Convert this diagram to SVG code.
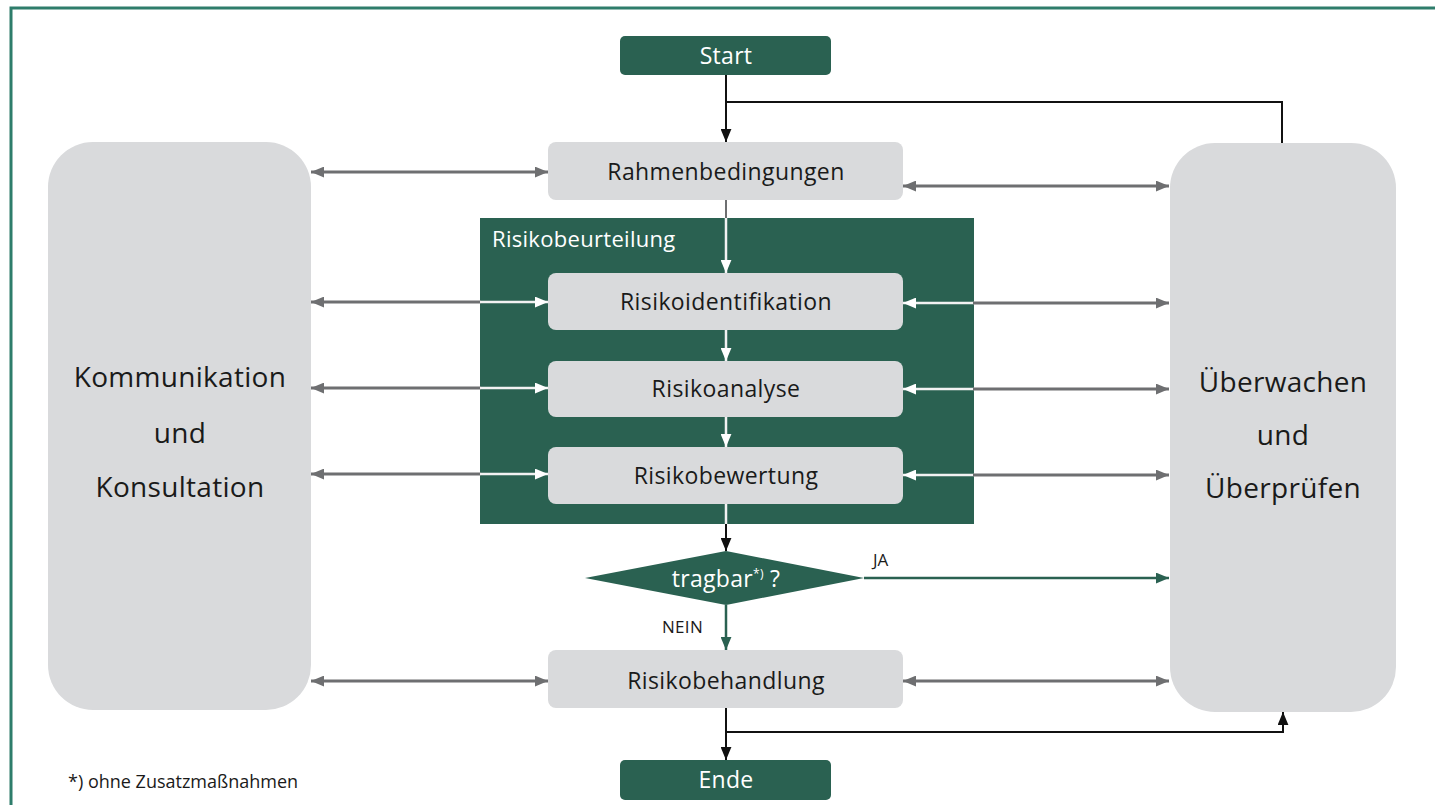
<svg xmlns="http://www.w3.org/2000/svg" width="1435" height="805" viewBox="0 0 1435 805">
<style>
text{font-family:"Open Sans","Noto Sans","DejaVu Sans",sans-serif;}
.gbox{fill:#d9dadc;}
.dk{fill:#2a6151;}
.lbl{font-size:23px;fill:#1a1a1a;text-anchor:middle;letter-spacing:0.4px;}
.big{font-size:28px;fill:#1a1a1a;text-anchor:middle;letter-spacing:0.3px;}
.wt{font-size:23px;fill:#ffffff;text-anchor:middle;letter-spacing:0.3px;}
.gl{stroke:#6e6f71;stroke-width:3;fill:none;}
.wl{stroke:#f2f2f2;stroke-width:2.5;fill:none;}
.bl{stroke:#111111;stroke-width:2;fill:none;}
.grn{stroke:#2a6151;stroke-width:2.5;fill:none;}
</style>
<defs>
<marker id="ag" viewBox="0 0 12 10" refX="12" refY="5" markerWidth="13" markerHeight="11" markerUnits="userSpaceOnUse" orient="auto-start-reverse"><path d="M0,0 L12,5 L0,10 z" fill="#6e6f71"/></marker>
<marker id="aw" viewBox="0 0 12 10" refX="12" refY="5" markerWidth="13" markerHeight="11" markerUnits="userSpaceOnUse" orient="auto-start-reverse"><path d="M0,0 L12,5 L0,10 z" fill="#ffffff"/></marker>
<marker id="ab" viewBox="0 0 12 10" refX="12" refY="5" markerWidth="13" markerHeight="11" markerUnits="userSpaceOnUse" orient="auto-start-reverse"><path d="M0,0 L12,5 L0,10 z" fill="#111111"/></marker>
<marker id="agr" viewBox="0 0 12 10" refX="12" refY="5" markerWidth="13" markerHeight="11" markerUnits="userSpaceOnUse" orient="auto-start-reverse"><path d="M0,0 L12,5 L0,10 z" fill="#2a6151"/></marker>
</defs>
<rect width="1435" height="805" fill="#ffffff"/>
<path d="M11,830 V8 H1440" fill="none" stroke="#2e7d6b" stroke-width="3"/>

<g id="risikobeurteilung">
<rect class="dk" x="480" y="218" width="494" height="306"/>
<text x="492" y="247" style="font-size:22px;fill:#ffffff;letter-spacing:0.3px;">Risikobeurteilung</text>
</g>

<g id="connectors">
<!-- left side -->
<line class="gl" x1="311" y1="172" x2="548" y2="172" marker-start="url(#ag)" marker-end="url(#ag)"/>
<line class="gl" x1="311" y1="302" x2="481" y2="302" marker-start="url(#ag)"/>
<line class="wl" x1="480" y1="302" x2="548" y2="302" marker-end="url(#aw)"/>
<line class="gl" x1="311" y1="388" x2="481" y2="388" marker-start="url(#ag)"/>
<line class="wl" x1="480" y1="388" x2="548" y2="388" marker-end="url(#aw)"/>
<line class="gl" x1="311" y1="474" x2="481" y2="474" marker-start="url(#ag)"/>
<line class="wl" x1="480" y1="474" x2="548" y2="474" marker-end="url(#aw)"/>
<line class="gl" x1="311" y1="681" x2="548" y2="681" marker-start="url(#ag)" marker-end="url(#ag)"/>
<!-- right side -->
<line class="gl" x1="903" y1="186" x2="1169" y2="186" marker-start="url(#ag)" marker-end="url(#ag)"/>
<line class="wl" x1="974" y1="303" x2="903" y2="303" marker-end="url(#aw)"/>
<line class="gl" x1="973" y1="303" x2="1169" y2="303" marker-end="url(#ag)"/>
<line class="wl" x1="974" y1="389" x2="903" y2="389" marker-end="url(#aw)"/>
<line class="gl" x1="973" y1="389" x2="1169" y2="389" marker-end="url(#ag)"/>
<line class="wl" x1="974" y1="475" x2="903" y2="475" marker-end="url(#aw)"/>
<line class="gl" x1="973" y1="475" x2="1169" y2="475" marker-end="url(#ag)"/>
<line class="gl" x1="903" y1="681" x2="1169" y2="681" marker-start="url(#ag)" marker-end="url(#ag)"/>
<!-- vertical flow -->
<line class="bl" x1="726" y1="75" x2="726" y2="142" marker-end="url(#ab)"/>
<polyline class="bl" points="1282,143 1282,102 726,102"/>
<line x1="726" y1="200" x2="726" y2="219" stroke="#6e6f71" stroke-width="2"/>
<line class="wl" x1="726" y1="218" x2="726" y2="273" marker-end="url(#aw)"/>
<line class="wl" x1="726" y1="330" x2="726" y2="361" marker-end="url(#aw)"/>
<line class="wl" x1="726" y1="417" x2="726" y2="447" marker-end="url(#aw)"/>
<line class="wl" x1="726" y1="504" x2="726" y2="525"/>
<line class="bl" x1="726" y1="524" x2="726" y2="551" marker-end="url(#ab)"/>
<line class="grn" x1="864" y1="578" x2="1169" y2="578" marker-end="url(#agr)"/>
<line class="grn" x1="726" y1="605" x2="726" y2="650" marker-end="url(#agr)"/>
<line class="bl" x1="726" y1="708" x2="726" y2="760" marker-end="url(#ab)"/>
<polyline class="bl" points="726,732 1283,732 1283,712" marker-end="url(#ab)"/>
<text x="873" y="566" style="font-size:17px;fill:#1a1a1a;">JA</text>
<text x="662" y="633" style="font-size:17px;fill:#1a1a1a;letter-spacing:0.3px;">NEIN</text>
</g>

<g id="start">
<rect class="dk" x="620" y="36" width="211" height="39" rx="5"/>
<text class="wt" x="726" y="64">Start</text>
</g>
<g id="rahmenbedingungen">
<rect class="gbox" x="548" y="142" width="355" height="58" rx="8"/>
<text class="lbl" x="726" y="180">Rahmenbedingungen</text>
</g>
<g id="risikoidentifikation">
<rect class="gbox" x="548" y="273" width="355" height="57" rx="8"/>
<text class="lbl" x="726" y="310">Risikoidentifikation</text>
</g>
<g id="risikoanalyse">
<rect class="gbox" x="548" y="361" width="355" height="56" rx="8"/>
<text class="lbl" x="726" y="397">Risikoanalyse</text>
</g>
<g id="risikobewertung">
<rect class="gbox" x="548" y="447" width="355" height="57" rx="8"/>
<text class="lbl" x="726" y="484">Risikobewertung</text>
</g>
<g id="tragbar">
<polygon class="dk" points="726,551 864,578 726,605 585,578"/>
<text class="wt" x="726" y="587">tragbar<tspan dy="-9" style="font-size:12px;">*)</tspan><tspan dy="9"> ?</tspan></text>
</g>
<g id="risikobehandlung">
<rect class="gbox" x="548" y="650" width="355" height="58" rx="8"/>
<text class="lbl" x="726" y="689">Risikobehandlung</text>
</g>
<g id="ende">
<rect class="dk" x="620" y="760" width="211" height="40" rx="5"/>
<text class="wt" x="726" y="788">Ende</text>
</g>
<g id="kommunikation">
<rect class="gbox" x="48" y="142" width="263" height="568" rx="45"/>
<text class="big" x="180" y="387">Kommunikation</text>
<text class="big" x="180" y="443">und</text>
<text class="big" x="180" y="497">Konsultation</text>
</g>
<g id="ueberwachen">
<rect class="gbox" x="1170" y="143" width="226" height="569" rx="45"/>
<text class="big" x="1283" y="392">Überwachen</text>
<text class="big" x="1283" y="445">und</text>
<text class="big" x="1283" y="498">Überprüfen</text>
</g>
<text x="68" y="788" style="font-size:18px;fill:#1a1a1a;">*) ohne Zusatzmaßnahmen</text>
</svg>
